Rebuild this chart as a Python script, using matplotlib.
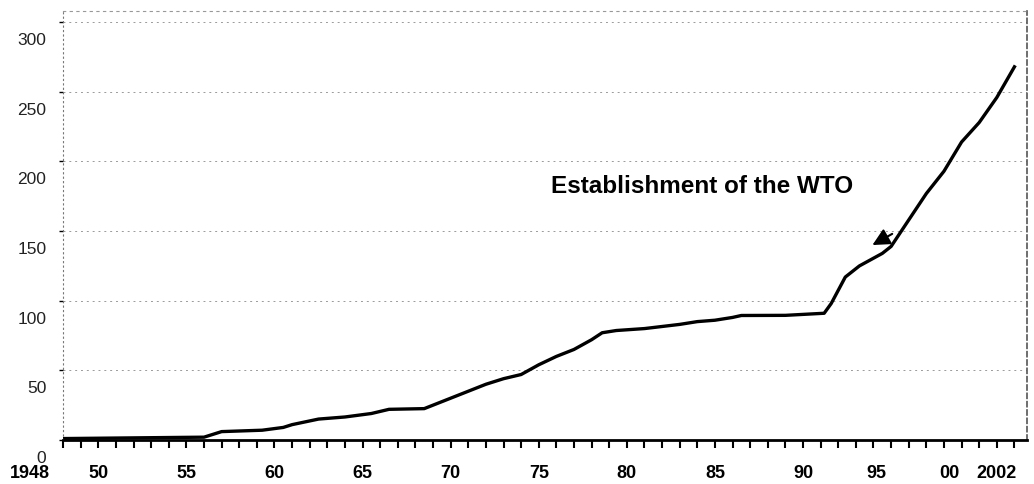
import numpy as np
import matplotlib
matplotlib.use("Agg")
import matplotlib.pyplot as plt
from matplotlib.transforms import ScaledTranslation

# RTAs notified (cumulative)
years = [1948, 1956, 1957, 1959.3, 1960.5, 1961, 1962.5, 1964, 1965.5, 1966.5,
         1968.5, 1969, 1970, 1971, 1972, 1973, 1974, 1975, 1976, 1977,
         1978, 1978.6, 1979.4, 1981, 1982, 1983, 1984, 1985, 1986, 1986.5,
         1989, 1991.2, 1991.6, 1992.4, 1993.2, 1994.5, 1995, 1996, 1997, 1998,
         1999, 2000, 2001, 2002]
counts = [1, 2, 6, 7, 9, 11, 15, 16.5, 19, 22,
          22.5, 25, 30, 35, 40, 44, 47, 54, 60, 65,
          72, 77, 78.6, 80, 81.5, 83, 85, 86, 88, 89.4,
          89.5, 91, 98, 117, 125, 134, 139, 158, 177, 193,
          214, 228, 246, 268]

xtick_pos = [1948, 1950, 1955, 1960, 1965, 1970, 1975, 1980, 1985, 1990, 1995, 2000, 2002]
xtick_lab = ['1948', '50', '55', '60', '65', '70', '75', '80', '85', '90', '95', '00', '2002']
# horizontal nudges (pixels) seen on the scan
xtick_shift = {'1948': -33, '95': -15, '00': -30, '2002': -18}
ytick_pos = [0, 50, 100, 150, 200, 250, 300]

wto_text = 'Establishment of the WTO'
wto_text_at = (1975.7, 182)
wto_arrow_tip = (1993.8, 139)
wto_arrow_tail = (1995.2, 149)

plt.rcParams['font.family'] = ['Liberation Sans', 'DejaVu Sans']

fig = plt.figure(figsize=(10.34, 4.84), dpi=100)
ax = fig.add_axes([0.061, 0.091, 0.932, 0.886])

ax.plot(years, counts, color='black', lw=2.4, solid_joinstyle='round')

ax.set_xlim(1948, 2002.7)
ax.set_ylim(0, 308)

ax.set_xticks(xtick_pos)
ax.set_xticklabels(xtick_lab, fontsize=13, fontweight='bold')
ax.set_xticks(np.arange(1948, 2003), minor=True)
ax.tick_params(axis='x', which='both', direction='out', length=6, width=1.5, pad=12)
for lab in ax.get_xticklabels():
    dx = xtick_shift.get(lab.get_text(), 0)
    if dx:
        lab.set_transform(lab.get_transform() + ScaledTranslation(dx / 100, 0, fig.dpi_scale_trans))

ax.set_yticks(ytick_pos)
ax.set_yticklabels([str(v) for v in ytick_pos], fontsize=12.5, color='#222222')
ax.tick_params(axis='y', direction='out', length=3, width=1, pad=9)
for lab in ax.get_yticklabels():
    lab.set_transform(lab.get_transform() + ScaledTranslation(0, -17 / 100, fig.dpi_scale_trans))

ax.grid(axis='y', linestyle=(0, (2, 4)), color='#9a9a9a', lw=0.7)
ax.set_axisbelow(True)

ax.spines['bottom'].set_linewidth(2)
ax.spines['left'].set_linestyle((0, (1, 3)))
ax.spines['left'].set_color('#777777')
ax.spines['top'].set_linestyle((0, (2, 4)))
ax.spines['top'].set_color('#999999')
ax.spines['top'].set_linewidth(0.8)
ax.spines['right'].set_linestyle((0, (3, 2)))
ax.spines['right'].set_color('#555555')
ax.spines['right'].set_linewidth(1.2)

ax.text(wto_text_at[0], wto_text_at[1], wto_text, fontsize=17.5, fontweight='bold',
        ha='left', va='center')
ax.annotate('', xy=wto_arrow_tip, xytext=wto_arrow_tail,
            arrowprops=dict(arrowstyle='-|>', color='black', lw=1.5, mutation_scale=26))

fig.savefig('out.png', dpi=100)
